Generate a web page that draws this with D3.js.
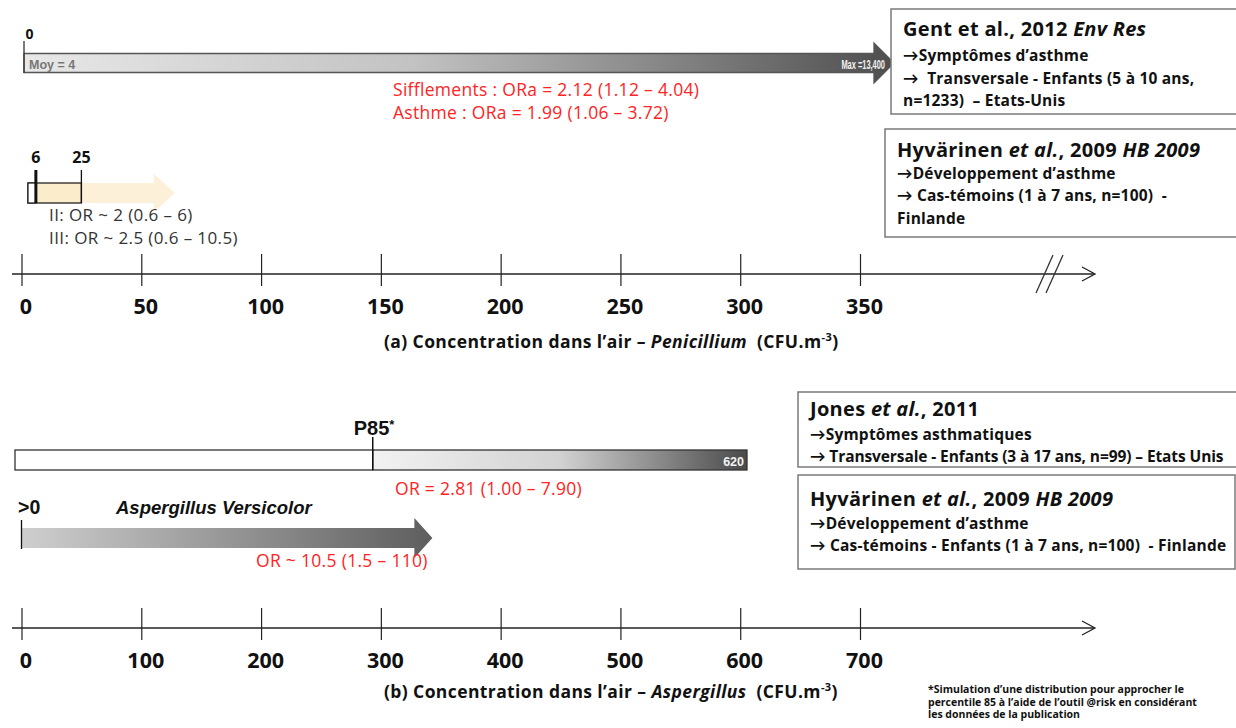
<!DOCTYPE html>
<html>
<head>
<meta charset="utf-8">
<script src="https://cdn.jsdelivr.net/npm/d3@7"></script>
<style>
  body { margin: 0; background: #fff; }
  text { font-family: "Open Sans", Lato, sans-serif; }
  .arial { font-family: "Liberation Sans", Arial, sans-serif; }
</style>
</head>
<body>
<script>
// axis ticks
const ticksA = [0, 50, 100, 150, 200, 250, 300, 350];
const ticksB = [0, 100, 200, 300, 400, 500, 600, 700];

// Penicillium - Gent et al. 2012 (moyenne, max)
const gentStats = [4, 13400];
const gentOR = ["Sifflements : ORa = 2.12 (1.12 – 4.04)", "Asthme : ORa = 1.99 (1.06 – 3.72)"];

// Penicillium - Hyvärinen 2009 (classes de concentration)
const hyvPenBounds = [6, 25];
const hyvPenOR = ["II: OR ~ 2 (0.6 – 6)", "III: OR ~ 2.5 (0.6 – 10.5)"];

// Aspergillus - Jones 2011 (P85, max)
const jonesStats = [303, 620];
const jonesOR = "OR = 2.81 (1.00 – 7.90)";

// Aspergillus versicolor - Hyvärinen 2009
const hyvAspOR = "OR ~ 10.5 (1.5 – 110)";

// study boxes: each line is a list of [text, italic?]
const boxGent = [
  [["Gent et al., 2012 ", 0], ["Env Res", 1]],
  [["→Symptômes d’asthme", 0]],
  [["→  Transversale - Enfants (5 à 10 ans,", 0]],
  [["n=1233)  – Etats-Unis", 0]]
];
const boxHyvPen = [
  [["Hyvärinen ", 0], ["et al.", 1], [", 2009 ", 0], ["HB 2009", 1]],
  [["→Développement d’asthme", 0]],
  [["→ Cas-témoins (1 à 7 ans, n=100)  -", 0]],
  [["Finlande", 0]]
];
const boxJones = [
  [["Jones ", 0], ["et al.", 1], [", 2011", 0]],
  [["→Symptômes asthmatiques", 0]],
  [["→ Transversale - Enfants (3 à 17 ans, n=99) – Etats Unis", 0]]
];
const boxHyvAsp = [
  [["Hyvärinen ", 0], ["et al.", 1], [", 2009 ", 0], ["HB 2009", 1]],
  [["→Développement d’asthme", 0]],
  [["→ Cas-témoins - Enfants (1 à 7 ans, n=100)  - Finlande", 0]]
];
const footnote = [
  "*Simulation d’une distribution pour approcher le",
  "percentile 85 à l’aide de l’outil @risk en considérant",
  "les données de la publication"
];

const width = 1236, height = 728;
const red = "#ff2323";

const svg = d3.select("body").append("svg")
  .attr("width", width)
  .attr("height", height);

const defs = svg.append("defs");
function grad(id, x1, x2, stops) {
  const g = defs.append("linearGradient").attr("id", id)
    .attr("gradientUnits", "userSpaceOnUse")
    .attr("x1", x1).attr("x2", x2).attr("y1", 0).attr("y2", 0);
  stops.forEach(s => g.append("stop").attr("offset", s[0]).attr("stop-color", s[1]));
}

// Arial-like text, optionally squeezed horizontally
function arial(x, y, size, opts) {
  const o = Object.assign({ sx: 1, weight: "bold", fill: "#111", anchor: "start", italic: false }, opts);
  return svg.append("text").attr("class", "arial")
    .attr("transform", `translate(${x},${y}) scale(${o.sx},1)`)
    .attr("font-size", size).attr("font-weight", o.weight)
    .attr("font-style", o.italic ? "italic" : "normal")
    .attr("text-anchor", o.anchor).attr("fill", o.fill);
}

const xA = d3.scaleLinear().domain([0, 350]).range([21.5, 860]);
const xB = d3.scaleLinear().domain([0, 700]).range([21.5, 860]);

// right-pointing block arrow
function arrowPath(x0, x1, yc, bodyH, headW, headH) {
  const p = d3.path();
  p.moveTo(x0, yc - bodyH / 2);
  p.lineTo(x1 - headW, yc - bodyH / 2);
  p.lineTo(x1 - headW, yc - headH / 2);
  p.lineTo(x1, yc);
  p.lineTo(x1 - headW, yc + headH / 2);
  p.lineTo(x1 - headW, yc + bodyH / 2);
  p.lineTo(x0, yc + bodyH / 2);
  p.closePath();
  return p.toString();
}

function studyBox(x, y, w, h, lines, lineYs, tightLast) {
  svg.append("rect").attr("x", x).attr("y", y).attr("width", w).attr("height", h)
    .attr("fill", "#fff").attr("stroke", "#7a7a7a").attr("stroke-width", 1.5);
  lines.forEach((segs, i) => {
    const t = svg.append("text").attr("x", x + 12).attr("y", lineYs[i])
      .attr("font-weight", "bold").attr("fill", "#111")
      .attr("font-size", i === 0 ? 20 : 15.5)
      .attr("letter-spacing", i === 0 ? 0.3 : (tightLast && i === lines.length - 1 ? -0.1 : 0.2))
      .attr("xml:space", "preserve");
    segs.forEach(s => t.append("tspan").attr("font-style", s[1] ? "italic" : "normal").text(s[0]));
  });
}

function drawAxis(x, ticks, y, breakMark) {
  const g = svg.append("g").attr("transform", `translate(0,${y - 20})`);
  g.call(d3.axisBottom(x).tickValues(ticks).tickSize(32).tickPadding(13));
  g.select(".domain").remove();
  g.selectAll(".tick line").attr("stroke", "#222").attr("stroke-width", 1.2);
  g.selectAll(".tick text")
    .attr("font-family", "Lato, sans-serif").attr("font-size", 21.5).attr("font-weight", "bold")
    .attr("fill", "#111").attr("dx", 4);
  svg.append("line").attr("x1", 12).attr("x2", 1094).attr("y1", y).attr("y2", y)
    .attr("stroke", "#222").attr("stroke-width", 1.3);
  svg.append("path").attr("d", `M1082,${y - 7}L1095,${y}L1082,${y + 7}`)
    .attr("fill", "none").attr("stroke", "#222").attr("stroke-width", 1.3);
  if (breakMark) {
    [0, 10].forEach(o => svg.append("line")
      .attr("x1", 1036 + o).attr("y1", y + 19).attr("x2", 1053 + o).attr("y2", y - 19)
      .attr("stroke", "#333").attr("stroke-width", 1.3));
  }
}

function axisTitle(y, prefix, genus) {
  const t = svg.append("text").attr("x", 384).attr("y", y)
    .attr("font-size", 17.5).attr("font-weight", "bold").attr("fill", "#111")
    .attr("letter-spacing", 0.4)
    .attr("xml:space", "preserve");
  t.append("tspan").text(prefix);
  t.append("tspan").attr("font-style", "italic").text(genus);
  t.append("tspan").text("  (CFU.m");
  t.append("tspan").attr("font-size", 11).attr("dy", -7).text("-3");
  t.append("tspan").attr("dy", 7).text(")");
}

function redText(x, y, s) {
  return svg.append("text").attr("x", x).attr("y", y).attr("font-size", 17.5)
    .attr("letter-spacing", 0.3).attr("fill", red).text(s);
}

// ---------- (a) Penicillium ----------
// Gent: schematic arrow from 0 to max
const xG = d3.scaleLinear().domain([0, gentStats[1]]).range([xA(0) + 2.5, 874]);
grad("gGent", xG(0), xG(gentStats[1]) + 20, [[0, "#e8e8e8"], [0.45, "#c2c2c2"], [1, "#4e4e4e"]]);
svg.append("path").attr("d", arrowPath(xG(0), xG(gentStats[1]) + 20, 63, 19, 20, 40))
  .attr("fill", "url(#gGent)").attr("stroke", "#555").attr("stroke-width", 1.3);
svg.append("line").attr("x1", xA(0) + 2.5).attr("x2", xA(0) + 2.5).attr("y1", 41).attr("y2", 73)
  .attr("stroke", "#333").attr("stroke-width", 1.3);
svg.append("text").attr("x", xA(0) + 4).attr("y", 39).attr("font-size", 14).attr("font-weight", "bold")
  .attr("font-family", "Lato, sans-serif").attr("fill", "#111").text("0");
arial(xG(0) + 5, 69, 12.5, { fill: "#777" }).text("Moy = " + gentStats[0]);
arial(xG(gentStats[1]) + 11, 69, 12, { fill: "#f2f2f2", anchor: "end", sx: 0.62 })
  .text("Max =" + d3.format(",")(gentStats[1]));
gentOR.forEach((s, i) => redText(393, 96 + i * 23, s));

// Hyvärinen Penicillium classes
svg.append("path").attr("d", arrowPath(xA(hyvPenBounds[1]), xA(64), 193, 20, 21, 38))
  .attr("fill", "#fdf0d8");
svg.append("rect").attr("x", xA(2.7)).attr("y", 183)
  .attr("width", xA(hyvPenBounds[1]) - xA(2.7)).attr("height", 20)
  .attr("fill", "#fbeccb").attr("stroke", "#222").attr("stroke-width", 1.3);
svg.append("rect").attr("x", xA(2.7)).attr("y", 183)
  .attr("width", xA(hyvPenBounds[0]) - xA(2.7)).attr("height", 20)
  .attr("fill", "#fff").attr("stroke", "#222").attr("stroke-width", 1.3);
hyvPenBounds.forEach((v, i) => {
  svg.append("line").attr("x1", xA(v)).attr("x2", xA(v)).attr("y1", 170).attr("y2", 203)
    .attr("stroke", "#111").attr("stroke-width", i === 0 ? 3 : 1.3);
  svg.append("text").attr("x", xA(v)).attr("y", 163).attr("text-anchor", "middle")
    .attr("font-size", 16).attr("font-weight", "bold").attr("fill", "#111")
    .attr("font-family", "Lato, sans-serif").text(v);
});
hyvPenOR.forEach((s, i) => svg.append("text").attr("x", 49).attr("y", 221 + i * 23)
  .attr("font-size", 17).attr("letter-spacing", 0.4).attr("fill", "#333").text(s));

drawAxis(xA, ticksA, 274, true);
axisTitle(348, "(a) Concentration dans l’air – ", "Penicillium");

studyBox(891, 9, 360, 105, boxGent, [36, 61, 84, 106]);
studyBox(885, 129, 360, 108, boxHyvPen, [157, 179, 201, 224]);

// ---------- (b) Aspergillus ----------
const xJ = d3.scaleLinear().domain([0, jonesStats[1]]).range([15, 747]);
grad("gJones", xJ(jonesStats[0]), xJ(jonesStats[1]), [[0, "#f2f2f2"], [0.5, "#d2d2d2"], [1, "#4a4a4a"]]);
svg.append("rect").attr("x", xJ(0)).attr("y", 450).attr("width", xJ(jonesStats[0]) - xJ(0)).attr("height", 20)
  .attr("fill", "#fff").attr("stroke", "#333").attr("stroke-width", 1.3);
svg.append("rect").attr("x", xJ(jonesStats[0])).attr("y", 450)
  .attr("width", xJ(jonesStats[1]) - xJ(jonesStats[0])).attr("height", 20)
  .attr("fill", "url(#gJones)").attr("stroke", "#333").attr("stroke-width", 1.3);
svg.append("line").attr("x1", xJ(jonesStats[0])).attr("x2", xJ(jonesStats[0])).attr("y1", 437).attr("y2", 470)
  .attr("stroke", "#111").attr("stroke-width", 1.5);
const p85 = arial(xJ(jonesStats[0]) - 19, 435, 20);
p85.append("tspan").text("P85");
p85.append("tspan").attr("font-size", 13).attr("dy", -6).text("*");
arial(xJ(jonesStats[1]) - 3, 466, 12.5, { fill: "#f2f2f2", anchor: "end" }).text(jonesStats[1]);
redText(395, 495, jonesOR);

// Aspergillus versicolor arrow (>0)
grad("gAsp", xB(0), xB(343), [[0, "#cfcfcf"], [1, "#5e5e5e"]]);
svg.append("path").attr("d", arrowPath(xB(0), xB(343), 538, 20, 18, 40))
  .attr("fill", "url(#gAsp)");
svg.append("line").attr("x1", xB(0)).attr("x2", xB(0)).attr("y1", 520).attr("y2", 549)
  .attr("stroke", "#111").attr("stroke-width", 1.3);
arial(18, 514, 19.5).text(">0");
arial(116, 514, 18.5, { italic: true }).text("Aspergillus Versicolor");
redText(256, 567, hyvAspOR);

drawAxis(xB, ticksB, 628, false);
axisTitle(698, "(b) Concentration dans l’air – ", "Aspergillus");

studyBox(798, 392, 460, 75, boxJones, [416, 440, 462], true);
studyBox(798, 475, 437, 94, boxHyvAsp, [506, 529, 551]);

// footnote
footnote.forEach((s, i) => svg.append("text")
  .attr("x", 928).attr("y", 693 + i * 12.5).attr("font-size", 10.5).attr("font-weight", "bold")
  .attr("fill", "#111").text(s));
</script>
</body>
</html>
